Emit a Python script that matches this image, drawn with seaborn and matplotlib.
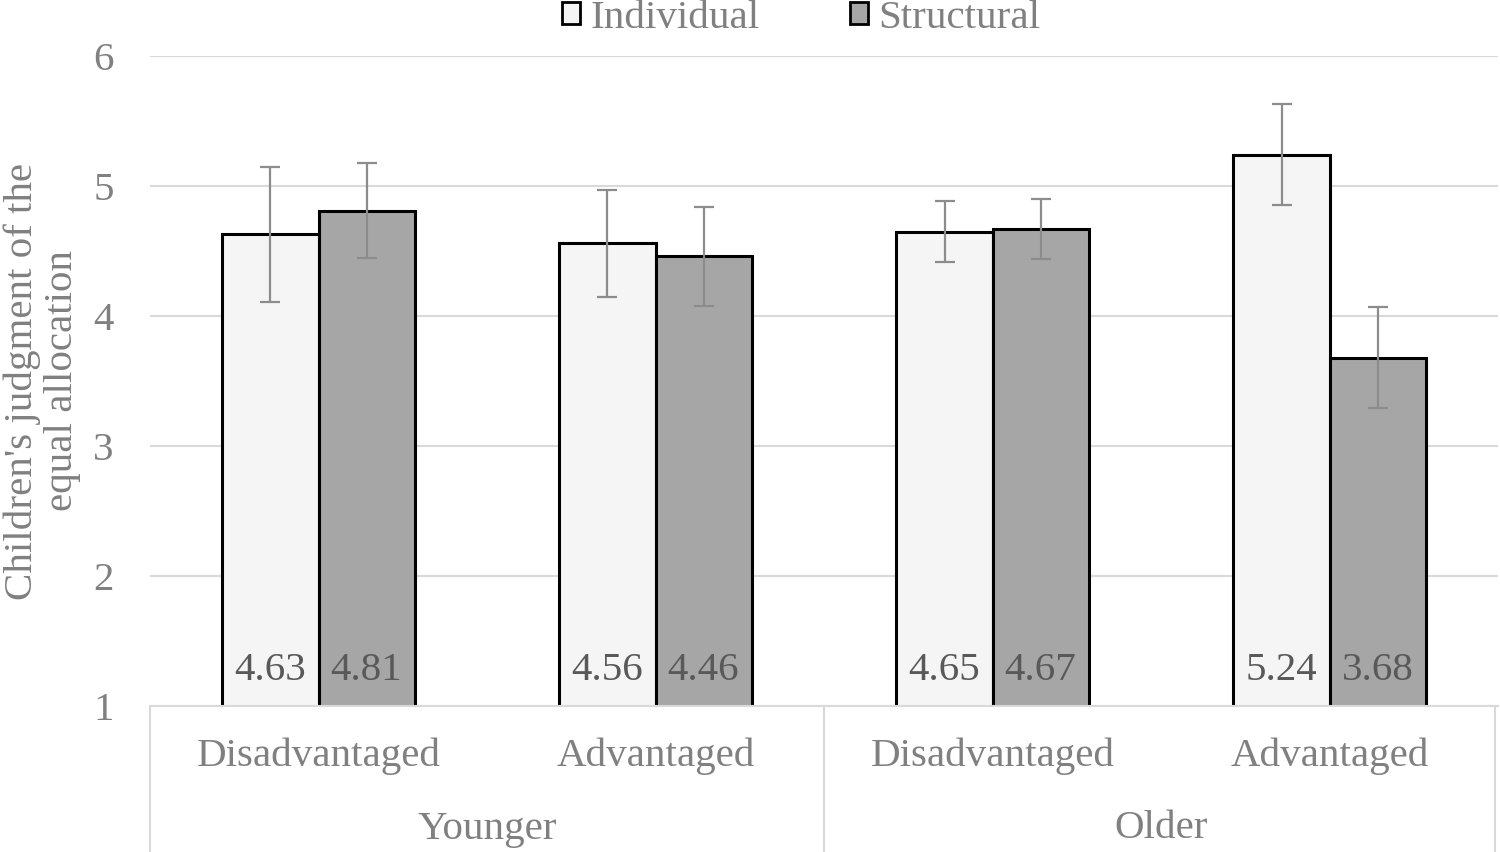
import pandas as pd
import numpy as np
import matplotlib.pyplot as plt
import seaborn as sns

# values
age = ["Younger", "Younger", "Older", "Older"]
status = ["Disadvantaged", "Advantaged", "Disadvantaged", "Advantaged"]
individual = [4.63, 4.56, 4.65, 5.24]
structural = [4.81, 4.46, 4.67, 3.68]
individual_err = [0.52, 0.41, 0.235, 0.39]
structural_err = [0.365, 0.38, 0.23, 0.39]
series = ["Individual", "Structural"]
colors = ["#f5f5f5", "#a6a6a6"]

conds = [a + " " + s for a, s in zip(age, status)]
df = pd.DataFrame({
    "cond": conds * 2,
    "type": ["Individual"] * 4 + ["Structural"] * 4,
    "mean": individual + structural,
})
errs = {"Individual": individual_err, "Structural": structural_err}

sns.set_style("white")
plt.rcParams["font.family"] = ["Liberation Serif", "DejaVu Serif"]
grey = "#808080"
fs = 29.5

fig = plt.figure(figsize=(15, 8.52), dpi=100)
ax = fig.add_axes([0.1, 1 - 706 / 852, 0.8987, 650 / 852])

sns.barplot(data=df, x="cond", y="mean", hue="type", order=conds, hue_order=series,
            palette=colors, edgecolor="black", linewidth=2.2, width=0.57,
            errorbar=None, saturation=1, legend=False, ax=ax)

# error bars and value labels
for cont, name in zip(ax.containers, series):
    for bar, e in zip(cont, errs[name]):
        xc = bar.get_x() + bar.get_width() / 2
        h = bar.get_height()
        ax.errorbar(xc, h, yerr=e, color="#8c8c8c", lw=1.6, capsize=7, capthick=1.6)
        ax.text(xc, 1.27, f"{h:.2f}", ha="center", va="center", fontsize=fs, color="#595959")

ax.set_ylim(1, 6)
ax.set_xlim(-0.5, 3.5)
ax.set_yticks(range(1, 7))
ax.yaxis.grid(True, color="#d9d9d9", lw=1.5)
ax.set_axisbelow(True)
for s in ["left", "right", "top"]:
    ax.spines[s].set_visible(False)
ax.spines["bottom"].set_color("#d9d9d9")
ax.spines["bottom"].set_linewidth(1.5)
ax.tick_params(axis="y", length=0, pad=26, labelsize=fs, labelcolor=grey)
ax.tick_params(axis="x", length=0)
ax.set_xticklabels([])
ax.set_xlabel("")
ax.set_ylabel("")

# two-level category axis
tr = ax.get_xaxis_transform()
for i, s in enumerate(status):
    ax.text(i, -50 / 650, s, transform=tr, ha="center", va="center", fontsize=fs, color=grey)
ages = ["Younger", "Older"]
for j, a in enumerate(ages):
    ax.text(2 * j + 0.5, -123 / 650, a, transform=tr, ha="center", va="center", fontsize=fs, color=grey)
for xv in [-0.5, 1.5, 3.49]:
    ax.plot([xv, xv], [0, -146 / 650], transform=tr, color="#d9d9d9", lw=1.5, clip_on=False)

fig.text(42 / 1500, 1 - 381 / 852, "Children's judgment of the\nequal allocation", rotation=90,
         ha="center", va="center", fontsize=fs, color=grey, linespacing=1.1)

handles = [plt.Rectangle((0, 0), 1, 1, facecolor=c, edgecolor="black", lw=2) for c in colors]
fig.legend(handles, series, loc="center", bbox_to_anchor=(801 / 1500, 1 - 18 / 852), ncol=2,
           frameon=False, fontsize=fs, labelcolor=grey, handlelength=0.45, handleheight=0.45,
           handletextpad=0.25, columnspacing=2.2, borderpad=0)

fig.savefig("out.png", dpi=100)
